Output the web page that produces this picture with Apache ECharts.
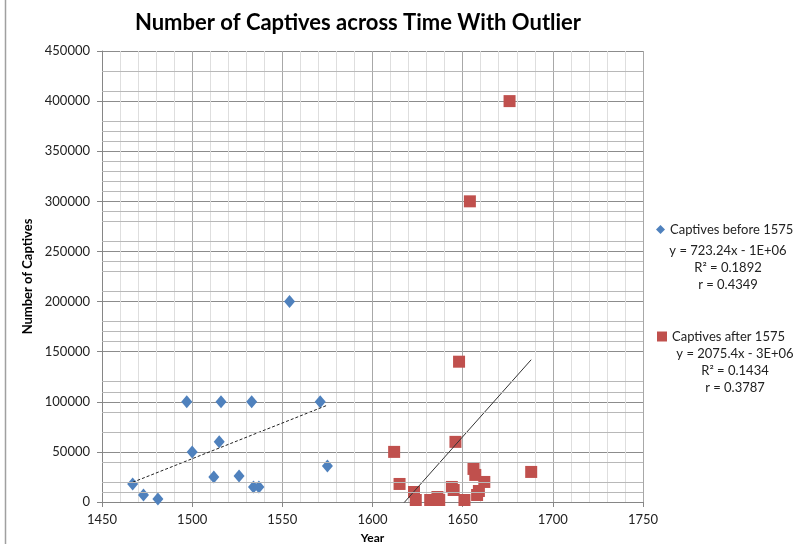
<!DOCTYPE html>
<html>
<head>
<meta charset="utf-8">
<script src="https://cdn.jsdelivr.net/npm/echarts@6/dist/echarts.min.js"></script>
<style>
html,body{margin:0;padding:0;background:#fff;}
#chart{width:794px;height:544px;}
</style>
</head>
<body>
<div id="chart"></div>
<script>
// ---- data ----
const beforeYears = [1467, 1473, 1481, 1497, 1500, 1512, 1515, 1516, 1526, 1533, 1534, 1537, 1554, 1571, 1575];
const beforeCaptives = [18000, 7000, 3000, 100000, 50000, 25000, 60000, 100000, 26000, 100000, 15000, 15000, 200000, 100000, 36000];
const afterYears = [1612, 1615, 1623, 1624, 1632, 1636, 1637, 1644, 1645, 1646, 1648, 1651, 1654, 1656, 1657, 1658, 1659, 1662, 1676, 1688];
const afterCaptives = [50000, 18000, 10000, 2000, 2000, 5000, 2000, 15000, 12000, 60000, 140000, 2000, 300000, 33000, 27000, 7000, 11000, 20000, 400000, 30000];
const xTicks = [1450, 1500, 1550, 1600, 1650, 1700, 1750];
const yTicks = [0, 50000, 100000, 150000, 200000, 250000, 300000, 350000, 400000, 450000];
const minorGridY = [10000, 20000, 40000, 70000, 90000, 110000, 120000, 160000, 170000, 180000, 210000, 230000, 240000, 260000, 280000, 290000, 310000, 320000, 330000, 340000, 360000, 370000, 380000, 410000, 430000];
const seriesNames = ['Captives before 1575', 'Captives after 1575'];
const beforeFitText = ['y = 723.24x - 1E+06', 'R\u00b2 = 0.1892', 'r = 0.4349'];
const afterFitText = ['y = 2075.4x - 3E+06', 'R\u00b2 = 0.1434', 'r = 0.3787'];

function pairs(xs, ys) { return xs.map((x, i) => [x, ys[i]]); }
function fitLine(xs, ys) {
  const n = xs.length;
  const mx = xs.reduce((a, b) => a + b, 0) / n;
  const my = ys.reduce((a, b) => a + b, 0) / n;
  let sxy = 0, sxx = 0;
  for (let i = 0; i < n; i++) { sxy += (xs[i] - mx) * (ys[i] - my); sxx += (xs[i] - mx) * (xs[i] - mx); }
  const b = sxy / sxx, a = my - b * mx;
  const x0 = Math.min(...xs), x1 = Math.max(...xs);
  return [[x0, a + b * x0], [x1, a + b * x1]];
}

const FONT = 'Lato';
const chart = echarts.init(document.getElementById('chart'), null, {renderer: 'canvas'});

const eqStyle = {fontFamily: FONT, fontSize: 13, fill: '#222'};
const graphics = [
  {type: 'text', x: 358, y: 23, style: {text: 'Number of Captives across Time With Outlier', textAlign: 'center', textVerticalAlign: 'middle', fontFamily: FONT, fontWeight: 'bold', fontSize: 22, fill: '#000'}},
  {type: 'line', shape: {x1: 5.5, y1: 0, x2: 5.5, y2: 544}, style: {stroke: '#a0a0a0', lineWidth: 1.5}}
];
[[beforeFitText, 728, 251], [afterFitText, 735, 354]].forEach(([lines, cx, y0]) => {
  lines.forEach((t, i) => {
    graphics.push({type: 'text', x: cx, y: y0 + i * 17, style: Object.assign({text: t, textAlign: 'center', textVerticalAlign: 'middle'}, eqStyle)});
  });
});

const option = {
  animation: false,
  backgroundColor: '#fff',
  textStyle: {fontFamily: FONT},
  grid: {left: 102, right: 151, top: 51, bottom: 42, containLabel: false, outerBoundsMode: 'none'},
  legend: [
    {data: [{name: seriesNames[0], icon: 'diamond'}], left: 656, top: 223, padding: 0, itemWidth: 9, itemHeight: 9, itemGap: 4,
     textStyle: {fontFamily: FONT, fontSize: 13, color: '#222'}},
    {data: [{name: seriesNames[1], icon: 'rect'}], left: 657, top: 330, padding: 0, itemWidth: 10, itemHeight: 10, itemGap: 4,
     textStyle: {fontFamily: FONT, fontSize: 13, color: '#222'}}
  ],
  xAxis: {
    type: 'value', min: xTicks[0], max: xTicks[xTicks.length - 1], interval: 50,
    name: 'Year', nameLocation: 'middle', nameGap: 30,
    nameTextStyle: {fontFamily: FONT, fontWeight: 'bold', fontSize: 12, color: '#000'},
    axisLine: {show: true, lineStyle: {color: '#868686', width: 1}},
    axisTick: {show: true, length: 5, lineStyle: {color: '#868686'}},
    axisLabel: {fontFamily: FONT, fontSize: 13, color: '#222', margin: 11, formatter: v => String(v)},
    splitLine: {show: true, lineStyle: {color: '#a8a8a8', width: 1}},
    minorTick: {show: false, splitNumber: 5},
    minorSplitLine: {show: true, lineStyle: {color: '#dedede', width: 1}}
  },
  yAxis: {
    type: 'value', min: yTicks[0], max: yTicks[yTicks.length - 1], interval: 50000,
    name: 'Number of Captives', nameLocation: 'middle', nameGap: 58, nameRotate: 90,
    nameTextStyle: {fontFamily: FONT, fontWeight: 'bold', fontSize: 13, color: '#000'},
    axisLine: {show: true, lineStyle: {color: '#868686', width: 1}},
    axisTick: {show: true, length: 5, lineStyle: {color: '#868686'}},
    axisLabel: {fontFamily: FONT, fontSize: 13, color: '#222', margin: 12, formatter: v => String(v)},
    splitLine: {show: true, lineStyle: {color: '#8c8c8c', width: 1}}
  },
  series: [
    {
      name: 'minorGrid', type: 'line', data: [[xTicks[0], 0]], showSymbol: false, symbol: 'none',
      lineStyle: {opacity: 0}, silent: true, z: 1,
      markLine: {silent: true, symbol: 'none', label: {show: false}, animation: false,
        lineStyle: {color: '#b8b8b8', type: 'solid', width: 1},
        emphasis: {disabled: true},
        data: minorGridY.map(v => ({yAxis: v}))}
    },
    {
      name: seriesNames[0], type: 'scatter', symbol: 'diamond', symbolSize: [11, 13],
      itemStyle: {color: '#4F81BD', opacity: 1}, data: pairs(beforeYears, beforeCaptives), z: 3
    },
    {
      name: seriesNames[1], type: 'scatter', symbol: 'rect', symbolSize: [12, 12],
      itemStyle: {color: '#C0504D', opacity: 1}, data: pairs(afterYears, afterCaptives), z: 3
    },
    {
      name: 'trendBefore', type: 'line', data: fitLine(beforeYears, beforeCaptives), symbol: 'none', clip: true,
      lineStyle: {color: '#222', width: 1, type: [3, 2]}, z: 4, silent: true
    },
    {
      name: 'trendAfter', type: 'line', data: fitLine(afterYears, afterCaptives), symbol: 'none', clip: true,
      lineStyle: {color: '#333', width: 1}, z: 4, silent: true
    }
  ],
  graphic: graphics
};
chart.setOption(option);
</script>
</body>
</html>
